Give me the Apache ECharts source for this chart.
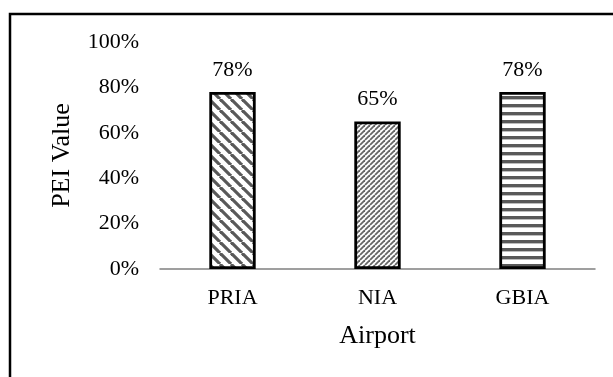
<!DOCTYPE html>
<html>
<head>
<meta charset="utf-8">
<script src="https://cdn.jsdelivr.net/npm/echarts@6/dist/echarts.min.js"></script>
<style>
  html, body { margin: 0; padding: 0; background: #fff; }
  #chart { width: 613px; height: 377px; }
</style>
</head>
<body>
<div id="chart"></div>
<script>
// PEI value per airport
const airports = ['PRIA', 'NIA', 'GBIA'];
const peiValues = [0.78, 0.65, 0.78];
const yTicks = [0, 0.2, 0.4, 0.6, 0.8, 1.0];

// Hatch fills drawn on small tiles
function hatchTile(kind) {
  const c = document.createElement('canvas');
  const ctx = c.getContext('2d');
  if (kind === 'back') {
    // wide "\\" stripes
    const s = 11;
    c.width = s; c.height = s;
    ctx.fillStyle = '#fff'; ctx.fillRect(0, 0, s, s);
    ctx.strokeStyle = '#595959'; ctx.lineWidth = 3.2;
    for (let k = -1; k <= 1; k++) {
      ctx.beginPath();
      ctx.moveTo(k * s, 0); ctx.lineTo(k * s + s, s);
      ctx.stroke();
    }
  } else if (kind === 'fwd') {
    // fine "//" stripes
    const s = 5;
    c.width = s; c.height = s;
    ctx.fillStyle = '#fff'; ctx.fillRect(0, 0, s, s);
    ctx.strokeStyle = '#666'; ctx.lineWidth = 1.8;
    for (let k = -1; k <= 1; k++) {
      ctx.beginPath();
      ctx.moveTo(k * s, s); ctx.lineTo(k * s + s, 0);
      ctx.stroke();
    }
  } else {
    // horizontal stripes
    c.width = 8; c.height = 8;
    ctx.fillStyle = '#fff'; ctx.fillRect(0, 0, 8, 8);
    ctx.fillStyle = '#595959'; ctx.fillRect(0, 0, 8, 3);
    ctx.fillStyle = '#bdbdbd'; ctx.fillRect(0, 3, 8, 1);
  }
  return { image: c, repeat: 'repeat' };
}
const fills = [hatchTile('back'), hatchTile('fwd'), hatchTile('horiz')];

const font = '"Liberation Serif", "Times New Roman", serif';
const chart = echarts.init(document.getElementById('chart'), null, { renderer: 'canvas' });

chart.setOption({
  animation: false,
  backgroundColor: '#fff',
  graphic: [{
    type: 'rect',
    shape: { x: 10, y: 14, width: 800, height: 600 },
    style: { fill: 'none', stroke: '#000', lineWidth: 2.5 },
    silent: true
  }],
  grid: { left: 160, right: 18, top: 42, bottom: 108 },
  xAxis: {
    type: 'category',
    data: airports,
    name: 'Airport',
    nameLocation: 'middle',
    nameGap: 54,
    nameTextStyle: { fontFamily: font, fontSize: 26, color: '#000' },
    axisLine: { show: true, lineStyle: { color: '#808080', width: 1.5 } },
    axisTick: { show: false },
    axisLabel: { fontFamily: font, fontSize: 22, color: '#000', margin: 18 }
  },
  yAxis: {
    type: 'value',
    min: yTicks[0],
    max: yTicks[yTicks.length - 1],
    interval: 0.2,
    name: 'PEI Value',
    nameLocation: 'middle',
    nameGap: 85,
    nameTextStyle: { fontFamily: font, fontSize: 26, color: '#000' },
    axisLine: { show: false },
    axisTick: { show: false },
    splitLine: { show: false },
    axisLabel: {
      fontFamily: font, fontSize: 22, color: '#000', margin: 21,
      formatter: v => Math.round(v * 100) + '%'
    }
  },
  series: [{
    type: 'bar',
    barWidth: '32%',
    data: peiValues.map((v, i) => ({
      value: v,
      itemStyle: { color: fills[i], borderColor: '#000', borderWidth: 2.8 }
    })),
    label: {
      show: true,
      position: 'top',
      distance: 11,
      fontFamily: font,
      fontSize: 22,
      color: '#000',
      formatter: p => Math.round(p.value * 100) + '%'
    }
  }]
});
</script>
</body>
</html>
